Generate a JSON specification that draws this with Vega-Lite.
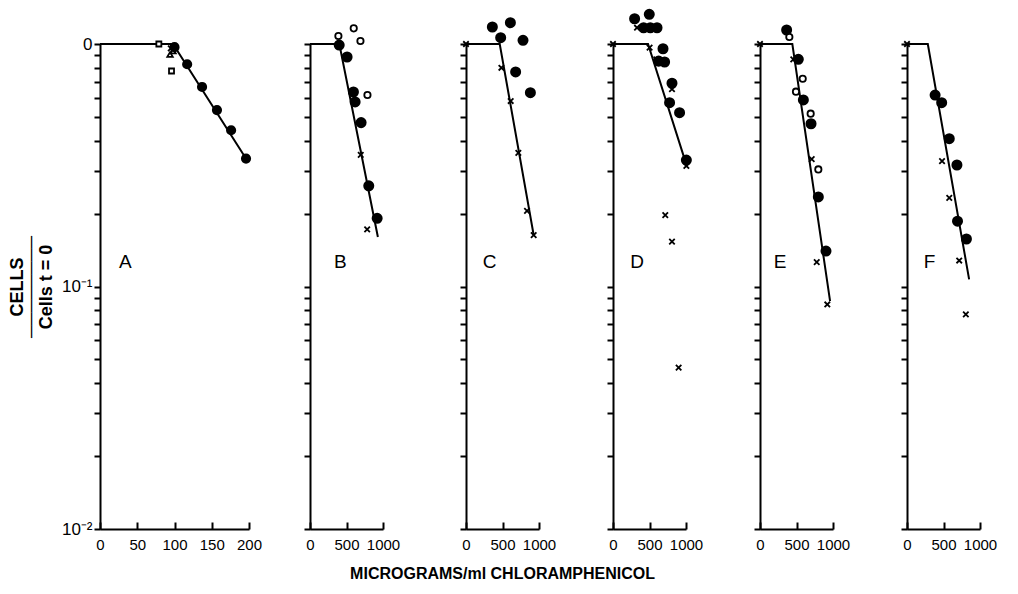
{
  "$schema": "https://vega.github.io/schema/vega-lite/v6.json",
  "background": "white",
  "padding": {"left": 8, "top": 6, "right": 5, "bottom": 5},
  "datasets": {
    "points": [
      {"p":"A","x":79,"y":1.0,"m":"square"},
      {"p":"A","x":96,"y":0.774,"m":"square"},
      {"p":"A","x":94,"y":0.905,"m":"triangle"},
      {"p":"A","x":98,"y":0.935,"m":"triangle"},
      {"p":"A","x":95,"y":0.96,"m":"x"},
      {"p":"A","x":100,"y":0.97,"m":"filled"},
      {"p":"A","x":117,"y":0.825,"m":"filled"},
      {"p":"A","x":137,"y":0.665,"m":"filled"},
      {"p":"A","x":157,"y":0.534,"m":"filled"},
      {"p":"A","x":176,"y":0.441,"m":"filled"},
      {"p":"A","x":196,"y":0.337,"m":"filled"},

      {"p":"B","x":400,"y":0.99,"m":"filled"},
      {"p":"B","x":508,"y":0.884,"m":"filled"},
      {"p":"B","x":595,"y":0.634,"m":"filled"},
      {"p":"B","x":618,"y":0.577,"m":"filled"},
      {"p":"B","x":700,"y":0.474,"m":"filled"},
      {"p":"B","x":805,"y":0.26,"m":"filled"},
      {"p":"B","x":920,"y":0.191,"m":"filled"},
      {"p":"B","x":389,"y":1.079,"m":"open"},
      {"p":"B","x":599,"y":1.16,"m":"open"},
      {"p":"B","x":691,"y":1.029,"m":"open"},
      {"p":"B","x":787,"y":0.616,"m":"open"},
      {"p":"B","x":695,"y":0.349,"m":"x"},
      {"p":"B","x":783,"y":0.172,"m":"x"},

      {"p":"C","x":361,"y":1.175,"m":"filled"},
      {"p":"C","x":608,"y":1.224,"m":"filled"},
      {"p":"C","x":475,"y":1.062,"m":"filled"},
      {"p":"C","x":781,"y":1.036,"m":"filled"},
      {"p":"C","x":680,"y":0.767,"m":"filled"},
      {"p":"C","x":882,"y":0.63,"m":"filled"},
      {"p":"C","x":0,"y":1.0,"m":"x"},
      {"p":"C","x":485,"y":0.798,"m":"x"},
      {"p":"C","x":612,"y":0.582,"m":"x"},
      {"p":"C","x":717,"y":0.356,"m":"x"},
      {"p":"C","x":836,"y":0.205,"m":"x"},
      {"p":"C","x":927,"y":0.163,"m":"x"},

      {"p":"D","x":296,"y":1.271,"m":"filled"},
      {"p":"D","x":497,"y":1.326,"m":"filled"},
      {"p":"D","x":419,"y":1.167,"m":"filled"},
      {"p":"D","x":511,"y":1.167,"m":"filled"},
      {"p":"D","x":603,"y":1.167,"m":"filled"},
      {"p":"D","x":685,"y":0.956,"m":"filled"},
      {"p":"D","x":707,"y":0.843,"m":"filled"},
      {"p":"D","x":625,"y":0.85,"m":"filled"},
      {"p":"D","x":808,"y":0.689,"m":"filled"},
      {"p":"D","x":775,"y":0.573,"m":"filled"},
      {"p":"D","x":912,"y":0.521,"m":"filled"},
      {"p":"D","x":1005,"y":0.332,"m":"filled"},
      {"p":"D","x":0,"y":1.0,"m":"x"},
      {"p":"D","x":329,"y":1.167,"m":"x"},
      {"p":"D","x":501,"y":0.966,"m":"x"},
      {"p":"D","x":593,"y":0.865,"m":"x"},
      {"p":"D","x":808,"y":0.651,"m":"x"},
      {"p":"D","x":1005,"y":0.314,"m":"x"},
      {"p":"D","x":716,"y":0.197,"m":"x"},
      {"p":"D","x":808,"y":0.153,"m":"x"},
      {"p":"D","x":899,"y":0.0463,"m":"x"},

      {"p":"E","x":365,"y":1.142,"m":"filled"},
      {"p":"E","x":525,"y":0.865,"m":"filled"},
      {"p":"E","x":594,"y":0.588,"m":"filled"},
      {"p":"E","x":699,"y":0.469,"m":"filled"},
      {"p":"E","x":799,"y":0.234,"m":"filled"},
      {"p":"E","x":904,"y":0.14,"m":"filled"},
      {"p":"E","x":402,"y":1.069,"m":"open"},
      {"p":"E","x":585,"y":0.719,"m":"open"},
      {"p":"E","x":493,"y":0.636,"m":"open"},
      {"p":"E","x":694,"y":0.516,"m":"open"},
      {"p":"E","x":799,"y":0.304,"m":"open"},
      {"p":"E","x":0,"y":1.0,"m":"x"},
      {"p":"E","x":456,"y":0.865,"m":"x"},
      {"p":"E","x":708,"y":0.335,"m":"x"},
      {"p":"E","x":777,"y":0.126,"m":"x"},
      {"p":"E","x":922,"y":0.0843,"m":"x"},

      {"p":"F","x":385,"y":0.616,"m":"filled"},
      {"p":"F","x":475,"y":0.573,"m":"filled"},
      {"p":"F","x":579,"y":0.407,"m":"filled"},
      {"p":"F","x":684,"y":0.317,"m":"filled"},
      {"p":"F","x":692,"y":0.186,"m":"filled"},
      {"p":"F","x":814,"y":0.157,"m":"filled"},
      {"p":"F","x":0,"y":1.0,"m":"x"},
      {"p":"F","x":480,"y":0.329,"m":"x"},
      {"p":"F","x":579,"y":0.232,"m":"x"},
      {"p":"F","x":715,"y":0.128,"m":"x"},
      {"p":"F","x":806,"y":0.0768,"m":"x"}
    ],
    "lines": [
      {"p":"A","x":0,"y":1.0},{"p":"A","x":98,"y":1.0},{"p":"A","x":197,"y":0.333},
      {"p":"B","x":0,"y":1.0},{"p":"B","x":402,"y":1.0},{"p":"B","x":930,"y":0.16},
      {"p":"C","x":0,"y":1.0},{"p":"C","x":462,"y":1.0},{"p":"C","x":927,"y":0.163},
      {"p":"D","x":0,"y":1.0},{"p":"D","x":480,"y":1.0},{"p":"D","x":1005,"y":0.318},
      {"p":"E","x":0,"y":1.0},{"p":"E","x":443,"y":1.0},{"p":"E","x":960,"y":0.087},
      {"p":"F","x":0,"y":1.0},{"p":"F","x":285,"y":1.0},{"p":"F","x":851,"y":0.107}
    ]
  },
  "title": {"text": "MICROGRAMS/ml CHLORAMPHENICOL", "orient": "bottom", "anchor": "middle", "fontSize": 16, "fontWeight": "bold", "font": "Liberation Sans", "offset": 14, "color": "black"},
  "bounds": "flush",
  "spacing": 61,
  "hconcat": [
    {
      "width": 149, "height": 485,
      "layer": [
        {"data":{"name":"lines"},"transform":[{"filter":"datum.p === 'A'"}],"mark":{"type":"line","color":"black","strokeWidth":2},
         "encoding": {
           "x": {"field":"x","type":"quantitative","scale":{"domain":[0,200],"nice":false,"zero":false},"axis":{"values":[0,50,100,150,200],"title":null,"format":"d","orient":"top","offset":-485,"tickSize":7,"labelPadding":-15,"labelBaseline":"top","labelOverlap":false}},
           "y": {"field":"y","type":"quantitative","scale":{"type":"log","domain":[0.01,1],"nice":false},"axis":{"values":[0.01,0.02,0.03,0.04,0.05,0.06,0.07,0.08,0.09,0.1,0.2,0.3,0.4,0.5,0.6,0.7,0.8,0.9,1],"labelExpr":"datum.value == 1 ? '0' : datum.value == 0.1 ? '10⁻¹' : datum.value == 0.01 ? '10⁻²' : ''","labelFontSize":17,"labelPadding":2,"labelOverlap":false,"title":["CELLS","────────","Cells t  =  0"],"titleFontSize":18,"titleFontWeight":"bold","titleFont":"Liberation Sans","titleLineHeight":14.5,"titlePadding":6}}
         }},
        {"data":{"name":"points"},"transform":[{"filter":"datum.p === 'A'"}],"mark":{"type":"point","opacity":1,"strokeWidth":1.8,"stroke":"black"},
         "encoding":{
           "x": {"field":"x","type":"quantitative","scale":{"domain":[0,200],"nice":false,"zero":false},"axis":{"values":[0,50,100,150,200],"title":null,"format":"d","orient":"top","offset":-485,"tickSize":7,"labelPadding":-15,"labelBaseline":"top","labelOverlap":false}},
           "y": {"field":"y","type":"quantitative","scale":{"type":"log","domain":[0.01,1],"nice":false},"axis":{"values":[0.01,0.02,0.03,0.04,0.05,0.06,0.07,0.08,0.09,0.1,0.2,0.3,0.4,0.5,0.6,0.7,0.8,0.9,1],"labelExpr":"datum.value == 1 ? '0' : datum.value == 0.1 ? '10⁻¹' : datum.value == 0.01 ? '10⁻²' : ''","labelFontSize":17,"labelPadding":2,"labelOverlap":false,"title":["CELLS","────────","Cells t  =  0"],"titleFontSize":18,"titleFontWeight":"bold","titleFont":"Liberation Sans","titleLineHeight":14.5,"titlePadding":6}},
           "shape":{"field":"m","type":"nominal","scale":{"domain":["filled","open","square","triangle","x"],"range":["circle","circle","square","triangle-up","M-1,-1L1,1M-1,1L1,-1"]},"legend":null},
           "fill":{"field":"m","type":"nominal","scale":{"domain":["filled","open","square","triangle","x"],"range":["black","white","white","white","transparent"]},"legend":null},
           "size":{"field":"m","type":"nominal","scale":{"type":"ordinal","domain":["filled","open","square","triangle","x"],"range":[70,40,25,30,30]},"legend":null}
         }},
        {"data":{"values":[{"label":"A"}]},"mark":{"type":"text","fontSize":19,"font":"Liberation Sans","color":"black","align":"center","baseline":"middle"},
         "encoding":{
           "x":{"datum":34,"type":"quantitative","axis":{"values":[0,50,100,150,200],"title":null,"format":"d","orient":"top","offset":-485,"tickSize":7,"labelPadding":-15,"labelBaseline":"top","labelOverlap":false}},
           "y":{"datum":0.126,"type":"quantitative","axis":{"values":[0.01,0.02,0.03,0.04,0.05,0.06,0.07,0.08,0.09,0.1,0.2,0.3,0.4,0.5,0.6,0.7,0.8,0.9,1],"labelExpr":"datum.value == 1 ? '0' : datum.value == 0.1 ? '10⁻¹' : datum.value == 0.01 ? '10⁻²' : ''","labelFontSize":17,"labelPadding":2,"labelOverlap":false,"title":["CELLS","────────","Cells t  =  0"],"titleFontSize":18,"titleFontWeight":"bold","titleFont":"Liberation Sans","titleLineHeight":14.5,"titlePadding":6}},
           "text":{"field":"label","type":"nominal"}}}
      ]
    },
    {
      "bounds": "flush",
      "spacing": 83,
      "hconcat": [
        {
          "width": 73, "height": 485,
          "layer": [
            {"data":{"name":"lines"},"transform":[{"filter":"datum.p === 'B'"}],"mark":{"type":"line","color":"black","strokeWidth":2},
             "encoding": {
               "x": {"field":"x","type":"quantitative","scale":{"domain":[0,1000],"nice":false,"zero":false},"axis":{"values":[0,500,1000],"title":null,"format":"d","orient":"top","offset":-485,"tickSize":7,"labelPadding":-15,"labelBaseline":"top","labelOverlap":false}},
               "y": {"field":"y","type":"quantitative","scale":{"type":"log","domain":[0.01,1],"nice":false},"axis":{"values":[0.01,0.02,0.03,0.04,0.05,0.06,0.07,0.08,0.09,0.1,0.2,0.3,0.4,0.5,0.6,0.7,0.8,0.9,1],"labels":false,"title":null}}
             }},
            {"data":{"name":"points"},"transform":[{"filter":"datum.p === 'B'"}],"mark":{"type":"point","opacity":1,"strokeWidth":1.8,"stroke":"black"},
             "encoding":{
               "x": {"field":"x","type":"quantitative","scale":{"domain":[0,1000],"nice":false,"zero":false},"axis":{"values":[0,500,1000],"title":null,"format":"d","orient":"top","offset":-485,"tickSize":7,"labelPadding":-15,"labelBaseline":"top","labelOverlap":false}},
               "y": {"field":"y","type":"quantitative","scale":{"type":"log","domain":[0.01,1],"nice":false},"axis":{"values":[0.01,0.02,0.03,0.04,0.05,0.06,0.07,0.08,0.09,0.1,0.2,0.3,0.4,0.5,0.6,0.7,0.8,0.9,1],"labels":false,"title":null}},
               "shape":{"field":"m","type":"nominal","scale":{"domain":["filled","open","square","triangle","x"],"range":["circle","circle","square","triangle-up","M-1,-1L1,1M-1,1L1,-1"]},"legend":null},
               "fill":{"field":"m","type":"nominal","scale":{"domain":["filled","open","square","triangle","x"],"range":["black","white","white","white","transparent"]},"legend":null},
               "size":{"field":"m","type":"nominal","scale":{"type":"ordinal","domain":["filled","open","square","triangle","x"],"range":[85,40,25,30,30]},"legend":null}
             }},
            {"data":{"values":[{"label":"B"}]},"mark":{"type":"text","fontSize":19,"font":"Liberation Sans","color":"black","align":"center","baseline":"middle"},
             "encoding":{
               "x":{"datum":416,"type":"quantitative","axis":{"values":[0,500,1000],"title":null,"format":"d","orient":"top","offset":-485,"tickSize":7,"labelPadding":-15,"labelBaseline":"top","labelOverlap":false}},
               "y":{"datum":0.126,"type":"quantitative","axis":{"values":[0.01,0.02,0.03,0.04,0.05,0.06,0.07,0.08,0.09,0.1,0.2,0.3,0.4,0.5,0.6,0.7,0.8,0.9,1],"labels":false,"title":null}},
               "text":{"field":"label","type":"nominal"}}}
          ]
        },
        {
          "bounds": "flush",
          "spacing": 74,
          "hconcat": [
            {
              "width": 73, "height": 485,
              "layer": [
                {"data":{"name":"lines"},"transform":[{"filter":"datum.p === 'C'"}],"mark":{"type":"line","color":"black","strokeWidth":2},
                 "encoding": {
                   "x": {"field":"x","type":"quantitative","scale":{"domain":[0,1000],"nice":false,"zero":false},"axis":{"values":[0,500,1000],"title":null,"format":"d","orient":"top","offset":-485,"tickSize":7,"labelPadding":-15,"labelBaseline":"top","labelOverlap":false}},
                   "y": {"field":"y","type":"quantitative","scale":{"type":"log","domain":[0.01,1],"nice":false},"axis":{"values":[0.01,0.02,0.03,0.04,0.05,0.06,0.07,0.08,0.09,0.1,0.2,0.3,0.4,0.5,0.6,0.7,0.8,0.9,1],"labels":false,"title":null}}
                 }},
                {"data":{"name":"points"},"transform":[{"filter":"datum.p === 'C'"}],"mark":{"type":"point","opacity":1,"strokeWidth":1.8,"stroke":"black"},
                 "encoding":{
                   "x": {"field":"x","type":"quantitative","scale":{"domain":[0,1000],"nice":false,"zero":false},"axis":{"values":[0,500,1000],"title":null,"format":"d","orient":"top","offset":-485,"tickSize":7,"labelPadding":-15,"labelBaseline":"top","labelOverlap":false}},
                   "y": {"field":"y","type":"quantitative","scale":{"type":"log","domain":[0.01,1],"nice":false},"axis":{"values":[0.01,0.02,0.03,0.04,0.05,0.06,0.07,0.08,0.09,0.1,0.2,0.3,0.4,0.5,0.6,0.7,0.8,0.9,1],"labels":false,"title":null}},
                   "shape":{"field":"m","type":"nominal","scale":{"domain":["filled","open","square","triangle","x"],"range":["circle","circle","square","triangle-up","M-1,-1L1,1M-1,1L1,-1"]},"legend":null},
                   "fill":{"field":"m","type":"nominal","scale":{"domain":["filled","open","square","triangle","x"],"range":["black","white","white","white","transparent"]},"legend":null},
                   "size":{"field":"m","type":"nominal","scale":{"type":"ordinal","domain":["filled","open","square","triangle","x"],"range":[85,40,25,30,30]},"legend":null}
                 }},
                {"data":{"values":[{"label":"C"}]},"mark":{"type":"text","fontSize":19,"font":"Liberation Sans","color":"black","align":"center","baseline":"middle"},
                 "encoding":{
                   "x":{"datum":325,"type":"quantitative","axis":{"values":[0,500,1000],"title":null,"format":"d","orient":"top","offset":-485,"tickSize":7,"labelPadding":-15,"labelBaseline":"top","labelOverlap":false}},
                   "y":{"datum":0.126,"type":"quantitative","axis":{"values":[0.01,0.02,0.03,0.04,0.05,0.06,0.07,0.08,0.09,0.1,0.2,0.3,0.4,0.5,0.6,0.7,0.8,0.9,1],"labels":false,"title":null}},
                   "text":{"field":"label","type":"nominal"}}}
              ]
            },
            {
              "width": 73, "height": 485,
              "layer": [
                {"data":{"name":"lines"},"transform":[{"filter":"datum.p === 'D'"}],"mark":{"type":"line","color":"black","strokeWidth":2},
                 "encoding": {
                   "x": {"field":"x","type":"quantitative","scale":{"domain":[0,1000],"nice":false,"zero":false},"axis":{"values":[0,500,1000],"title":null,"format":"d","orient":"top","offset":-485,"tickSize":7,"labelPadding":-15,"labelBaseline":"top","labelOverlap":false}},
                   "y": {"field":"y","type":"quantitative","scale":{"type":"log","domain":[0.01,1],"nice":false},"axis":{"values":[0.01,0.02,0.03,0.04,0.05,0.06,0.07,0.08,0.09,0.1,0.2,0.3,0.4,0.5,0.6,0.7,0.8,0.9,1],"labels":false,"title":null}}
                 }},
                {"data":{"name":"points"},"transform":[{"filter":"datum.p === 'D'"}],"mark":{"type":"point","opacity":1,"strokeWidth":1.8,"stroke":"black"},
                 "encoding":{
                   "x": {"field":"x","type":"quantitative","scale":{"domain":[0,1000],"nice":false,"zero":false},"axis":{"values":[0,500,1000],"title":null,"format":"d","orient":"top","offset":-485,"tickSize":7,"labelPadding":-15,"labelBaseline":"top","labelOverlap":false}},
                   "y": {"field":"y","type":"quantitative","scale":{"type":"log","domain":[0.01,1],"nice":false},"axis":{"values":[0.01,0.02,0.03,0.04,0.05,0.06,0.07,0.08,0.09,0.1,0.2,0.3,0.4,0.5,0.6,0.7,0.8,0.9,1],"labels":false,"title":null}},
                   "shape":{"field":"m","type":"nominal","scale":{"domain":["filled","open","square","triangle","x"],"range":["circle","circle","square","triangle-up","M-1,-1L1,1M-1,1L1,-1"]},"legend":null},
                   "fill":{"field":"m","type":"nominal","scale":{"domain":["filled","open","square","triangle","x"],"range":["black","white","white","white","transparent"]},"legend":null},
                   "size":{"field":"m","type":"nominal","scale":{"type":"ordinal","domain":["filled","open","square","triangle","x"],"range":[85,40,25,30,30]},"legend":null}
                 }},
                {"data":{"values":[{"label":"D"}]},"mark":{"type":"text","fontSize":19,"font":"Liberation Sans","color":"black","align":"center","baseline":"middle"},
                 "encoding":{
                   "x":{"datum":329,"type":"quantitative","axis":{"values":[0,500,1000],"title":null,"format":"d","orient":"top","offset":-485,"tickSize":7,"labelPadding":-15,"labelBaseline":"top","labelOverlap":false}},
                   "y":{"datum":0.126,"type":"quantitative","axis":{"values":[0.01,0.02,0.03,0.04,0.05,0.06,0.07,0.08,0.09,0.1,0.2,0.3,0.4,0.5,0.6,0.7,0.8,0.9,1],"labels":false,"title":null}},
                   "text":{"field":"label","type":"nominal"}}}
              ]
            },
            {
              "width": 73, "height": 485,
              "layer": [
                {"data":{"name":"lines"},"transform":[{"filter":"datum.p === 'E'"}],"mark":{"type":"line","color":"black","strokeWidth":2},
                 "encoding": {
                   "x": {"field":"x","type":"quantitative","scale":{"domain":[0,1000],"nice":false,"zero":false},"axis":{"values":[0,500,1000],"title":null,"format":"d","orient":"top","offset":-485,"tickSize":7,"labelPadding":-15,"labelBaseline":"top","labelOverlap":false}},
                   "y": {"field":"y","type":"quantitative","scale":{"type":"log","domain":[0.01,1],"nice":false},"axis":{"values":[0.01,0.02,0.03,0.04,0.05,0.06,0.07,0.08,0.09,0.1,0.2,0.3,0.4,0.5,0.6,0.7,0.8,0.9,1],"labels":false,"title":null}}
                 }},
                {"data":{"name":"points"},"transform":[{"filter":"datum.p === 'E'"}],"mark":{"type":"point","opacity":1,"strokeWidth":1.8,"stroke":"black"},
                 "encoding":{
                   "x": {"field":"x","type":"quantitative","scale":{"domain":[0,1000],"nice":false,"zero":false},"axis":{"values":[0,500,1000],"title":null,"format":"d","orient":"top","offset":-485,"tickSize":7,"labelPadding":-15,"labelBaseline":"top","labelOverlap":false}},
                   "y": {"field":"y","type":"quantitative","scale":{"type":"log","domain":[0.01,1],"nice":false},"axis":{"values":[0.01,0.02,0.03,0.04,0.05,0.06,0.07,0.08,0.09,0.1,0.2,0.3,0.4,0.5,0.6,0.7,0.8,0.9,1],"labels":false,"title":null}},
                   "shape":{"field":"m","type":"nominal","scale":{"domain":["filled","open","square","triangle","x"],"range":["circle","circle","square","triangle-up","M-1,-1L1,1M-1,1L1,-1"]},"legend":null},
                   "fill":{"field":"m","type":"nominal","scale":{"domain":["filled","open","square","triangle","x"],"range":["black","white","white","white","transparent"]},"legend":null},
                   "size":{"field":"m","type":"nominal","scale":{"type":"ordinal","domain":["filled","open","square","triangle","x"],"range":[85,40,25,30,30]},"legend":null}
                 }},
                {"data":{"values":[{"label":"E"}]},"mark":{"type":"text","fontSize":19,"font":"Liberation Sans","color":"black","align":"center","baseline":"middle"},
                 "encoding":{
                   "x":{"datum":274,"type":"quantitative","axis":{"values":[0,500,1000],"title":null,"format":"d","orient":"top","offset":-485,"tickSize":7,"labelPadding":-15,"labelBaseline":"top","labelOverlap":false}},
                   "y":{"datum":0.126,"type":"quantitative","axis":{"values":[0.01,0.02,0.03,0.04,0.05,0.06,0.07,0.08,0.09,0.1,0.2,0.3,0.4,0.5,0.6,0.7,0.8,0.9,1],"labels":false,"title":null}},
                   "text":{"field":"label","type":"nominal"}}}
              ]
            },
            {
              "width": 73, "height": 485,
              "layer": [
                {"data":{"name":"lines"},"transform":[{"filter":"datum.p === 'F'"}],"mark":{"type":"line","color":"black","strokeWidth":2},
                 "encoding": {
                   "x": {"field":"x","type":"quantitative","scale":{"domain":[0,1000],"nice":false,"zero":false},"axis":{"values":[0,500,1000],"title":null,"format":"d","orient":"top","offset":-485,"tickSize":7,"labelPadding":-15,"labelBaseline":"top","labelOverlap":false}},
                   "y": {"field":"y","type":"quantitative","scale":{"type":"log","domain":[0.01,1],"nice":false},"axis":{"values":[0.01,0.02,0.03,0.04,0.05,0.06,0.07,0.08,0.09,0.1,0.2,0.3,0.4,0.5,0.6,0.7,0.8,0.9,1],"labels":false,"title":null}}
                 }},
                {"data":{"name":"points"},"transform":[{"filter":"datum.p === 'F'"}],"mark":{"type":"point","opacity":1,"strokeWidth":1.8,"stroke":"black"},
                 "encoding":{
                   "x": {"field":"x","type":"quantitative","scale":{"domain":[0,1000],"nice":false,"zero":false},"axis":{"values":[0,500,1000],"title":null,"format":"d","orient":"top","offset":-485,"tickSize":7,"labelPadding":-15,"labelBaseline":"top","labelOverlap":false}},
                   "y": {"field":"y","type":"quantitative","scale":{"type":"log","domain":[0.01,1],"nice":false},"axis":{"values":[0.01,0.02,0.03,0.04,0.05,0.06,0.07,0.08,0.09,0.1,0.2,0.3,0.4,0.5,0.6,0.7,0.8,0.9,1],"labels":false,"title":null}},
                   "shape":{"field":"m","type":"nominal","scale":{"domain":["filled","open","square","triangle","x"],"range":["circle","circle","square","triangle-up","M-1,-1L1,1M-1,1L1,-1"]},"legend":null},
                   "fill":{"field":"m","type":"nominal","scale":{"domain":["filled","open","square","triangle","x"],"range":["black","white","white","white","transparent"]},"legend":null},
                   "size":{"field":"m","type":"nominal","scale":{"type":"ordinal","domain":["filled","open","square","triangle","x"],"range":[85,40,25,30,30]},"legend":null}
                 }},
                {"data":{"values":[{"label":"F"}]},"mark":{"type":"text","fontSize":19,"font":"Liberation Sans","color":"black","align":"center","baseline":"middle"},
                 "encoding":{
                   "x":{"datum":308,"type":"quantitative","axis":{"values":[0,500,1000],"title":null,"format":"d","orient":"top","offset":-485,"tickSize":7,"labelPadding":-15,"labelBaseline":"top","labelOverlap":false}},
                   "y":{"datum":0.126,"type":"quantitative","axis":{"values":[0.01,0.02,0.03,0.04,0.05,0.06,0.07,0.08,0.09,0.1,0.2,0.3,0.4,0.5,0.6,0.7,0.8,0.9,1],"labels":false,"title":null}},
                   "text":{"field":"label","type":"nominal"}}}
              ]
            }
          ]
        }
      ]
    }
  ],
  "resolve": {"scale": {"shape": "independent", "fill": "independent", "size": "independent"}},
  "config": {
    "view": {"stroke": null},
    "font": "Liberation Sans",
    "axis": {"grid": false, "domainColor": "black", "domainWidth": 2, "tickColor": "black", "tickWidth": 2, "labelColor": "black", "titleColor": "black", "labelFont": "Liberation Sans", "labelFontSize": 15, "labelOverlap": false, "labelFlush": false},
    "axisY": {"tickSize": 6},
    "axisX": {"labelAngle": 0}
  }
}
